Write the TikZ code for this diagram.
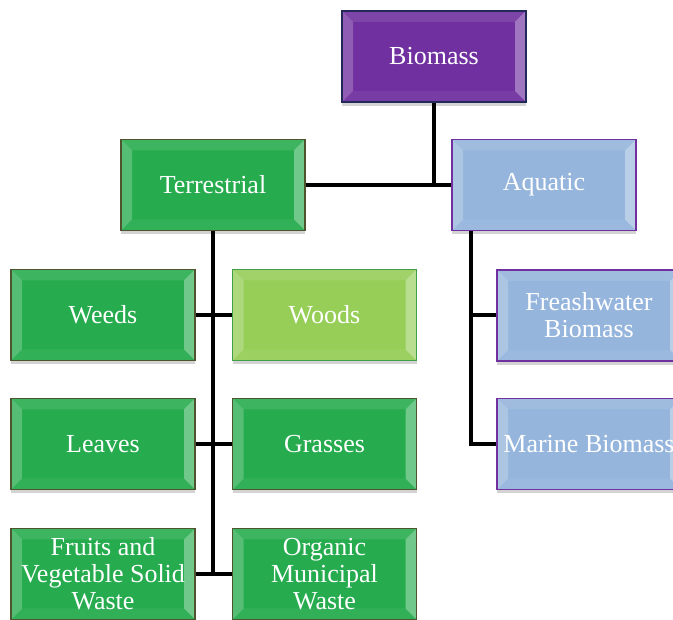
\documentclass[tikz,border=0pt]{standalone}
\usepackage{fontspec}
\setmainfont{Liberation Serif}
\usetikzlibrary{shadows}
\definecolor{biopurple}{RGB}{112,48,160}
\definecolor{bioedge}{RGB}{35,40,90}
\definecolor{terrgreen}{RGB}{38,172,78}
\definecolor{terredge}{RGB}{78,84,46}
\definecolor{woodgreen}{RGB}{150,206,88}
\definecolor{woodedge}{RGB}{64,158,72}
\definecolor{aquablue}{RGB}{149,181,220}
\definecolor{aquaedge}{RGB}{112,48,160}
\tikzset{
	bevel/.style={path picture={
			\fill[white,opacity=0.22] (path picture bounding box.north west) -- ([xshift=11pt,yshift=-11pt]path picture bounding box.north west) -- ([xshift=11pt,yshift=11pt]path picture bounding box.south west) -- (path picture bounding box.south west) -- cycle;
			\fill[white,opacity=0.34] (path picture bounding box.north east) -- ([xshift=-11pt,yshift=-11pt]path picture bounding box.north east) -- ([xshift=-11pt,yshift=11pt]path picture bounding box.south east) -- (path picture bounding box.south east) -- cycle;
			\fill[white,opacity=0.10] (path picture bounding box.north west) -- (path picture bounding box.north east) -- ([xshift=-11pt,yshift=-11pt]path picture bounding box.north east) -- ([xshift=11pt,yshift=-11pt]path picture bounding box.north west) -- cycle;
			\fill[white,opacity=0.06] (path picture bounding box.south west) -- (path picture bounding box.south east) -- ([xshift=-11pt,yshift=11pt]path picture bounding box.south east) -- ([xshift=11pt,yshift=11pt]path picture bounding box.south west) -- cycle;
	}},
	box/.style={rectangle,minimum width=184pt,minimum height=91pt,inner sep=0pt,align=center,text=white,font=\fontsize{26}{27}\selectfont,line width=1.3pt,drop shadow={shadow xshift=0pt,shadow yshift=-4pt,opacity=0.35},bevel},
	rootbox/.style={box,fill=biopurple,draw=bioedge},
	terrbox/.style={box,fill=terrgreen,draw=terredge},
	woodbox/.style={box,fill=woodgreen,draw=woodedge},
	aquabox/.style={box,fill=aquablue,draw=aquaedge},
	link/.style={line width=4pt,black}
}
\begin{document}
\begin{tikzpicture}[line join=miter,x=1pt,y=-1pt]
	\useasboundingbox (0,0) rectangle (673,620);
	\clip (0,0) rectangle (673,620);
	\node[rootbox] (biomass) at (434,56.5) {Biomass};
	\node[terrbox] (terrestrial) at (213,185) {Terrestrial};
	\node[aquabox] (aquatic) at (544,185) {Aquatic};
	\node[terrbox] (weeds) at (103,315) {Weeds};
	\node[woodbox] (woods) at (324.5,315) {Woods};
	\node[terrbox] (leaves) at (103,444) {Leaves};
	\node[terrbox] (grasses) at (324.5,444) {Grasses};
	\node[terrbox] (fruits) at (103,574) {Fruits and\\Vegetable Solid\\Waste};
	\node[terrbox] (organic) at (324.5,574) {Organic\\Municipal\\Waste};
	\node[aquabox] (fresh) at (589,315.5) {Freashwater\\Biomass};
	\node[aquabox] (marine) at (589,444) {Marine Biomass};
	\coordinate (aqtrunk) at ([xshift=20pt]aquatic.south west);
	\draw[link] (terrestrial.east) -- (aquatic.west);
	\draw[link] (biomass.south) -- (biomass.south |- aquatic.west);
	\draw[link] (terrestrial.south) -- (terrestrial.south |- fruits.east);
	\draw[link] (weeds.east) -- (woods.west);
	\draw[link] (leaves.east) -- (grasses.west);
	\draw[link] (fruits.east) -- (organic.west);
	\draw[link] (aqtrunk) |- (marine.west);
	\draw[link] (aqtrunk |- fresh.west) -- (fresh.west);
\end{tikzpicture}
\end{document}
